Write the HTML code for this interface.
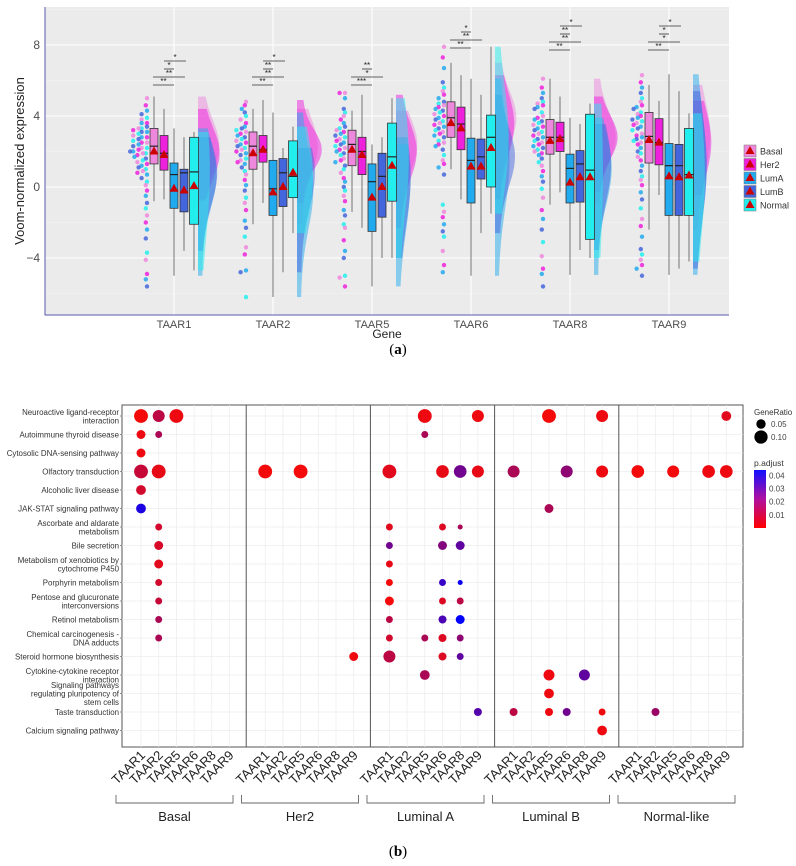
<!DOCTYPE html>
<html><head><meta charset="utf-8"><style>
body{margin:0;background:#fff}
svg{display:block;font-family:"Liberation Sans",sans-serif}
</style></head><body>
<svg id="fig" width="796" height="866" viewBox="0 0 796 866" xmlns="http://www.w3.org/2000/svg">
<g id="topPanel"></g>
<g id="botPanel"></g>
<text x="398" y="354" text-anchor="middle" font-family="Liberation Serif,serif" font-size="15">(<tspan font-weight="bold">a</tspan>)</text>
<text x="398" y="856" text-anchor="middle" font-family="Liberation Serif,serif" font-size="15">(<tspan font-weight="bold">b</tspan>)</text>
</svg>
<script>
// ---------- Panel A data ----------
const genes = ["TAAR1","TAAR2","TAAR5","TAAR6","TAAR8","TAAR9"];
const subtypes = ["Basal","Her2","LumA","LumB","Normal"];
const yTicks = [8,4,0,-4];
// per gene, per subtype: [q1, median, q3, whiskerLow, whiskerHigh, mean]
const statsTAAR1 = [[1.3,2.3,3.3,-0.8,5.1,2.0],[0.95,1.9,2.9,-0.7,4.4,1.8],[-1.2,0.7,1.35,-5,3.3,-0.1],[-1.4,0.8,1.0,-3.6,2.8,-0.2],[-2.1,0.85,2.8,-4.7,3.1,0.05]];
const statsTAAR2 = [[1.0,2.3,3.1,-2.1,4.4,1.9],[1.4,2.1,2.9,-0.9,4.9,2.1],[-1.6,-0.1,1.5,-6.2,4.2,-0.3],[-1.1,0.8,1.6,-4.8,2.2,0],[-0.6,0.6,2.6,-2.6,3.4,0.8]];
const statsTAAR5 = [[1.2,2.4,3.2,-1.4,4.3,2.1],[0.7,2.0,2.8,-2.3,5.2,1.8],[-2.5,0.3,1.3,-5.6,2.4,-0.6],[-1.7,0.6,1.9,-4,2.8,0],[-0.8,1.7,3.6,-4,5.0,1.2]];
const statsTAAR6 = [[2.8,3.9,4.8,1.0,7.0,3.6],[2.1,3.55,4.5,-0.7,6.3,3.3],[-0.9,1.5,2.75,-5,6.1,1.15],[0.45,1.7,2.7,-2.6,5.2,1.15],[0,2.8,4.05,-1.5,7.9,2.2]];
const statsTAAR8 = [[1.85,2.8,3.8,-1.0,6.1,2.6],[2.0,2.8,3.65,-0.3,5.1,2.7],[-0.9,1.05,1.85,-4.95,3.9,0.25],[-0.85,1.3,2.05,-3.55,3.55,0.55],[-2.95,0.95,4.1,-4.0,4.7,0.55]];
const statsTAAR9 = [[1.35,2.85,4.2,-2.4,5.75,2.65],[1.25,2.5,3.85,-0.45,4.85,2.5],[-1.6,1.2,2.45,-4.95,6.35,0.6],[-1.6,1.2,2.4,-4.6,5.4,0.55],[-1.6,0.7,3.3,-4.2,4.15,0.65]];
const allStats = [statsTAAR1,statsTAAR2,statsTAAR5,statsTAAR6,statsTAAR8,statsTAAR9];
const ptsTAAR1 = [5,4.6,4.3,4.1,3.9,3.8,3.6,3.6,3.4,3.3,3.3,3.2,3.1,3.1,3.0,2.9,2.8,2.8,2.7,2.6,2.5,2.5,2.4,2.3,2.2,2.2,2.1,2.0,2.0,1.9,1.9,1.8,1.7,1.6,1.5,1.4,1.3,1.2,1.1,1.0,0.9,0.8,0.7,0.5,0.3,0.1,-0.2,-0.5,-0.9,-1.2,-1.6,-2.0,-2.4,-2.9,-3.7,-4.1,-4.9,-5.2,-5.6];
const ptsTAAR2 = [4.8,4.6,4.4,4.2,4.0,3.8,3.6,3.4,3.3,3.2,3.1,3.0,2.9,2.8,2.7,2.6,2.5,2.4,2.3,2.2,2.1,2.0,1.9,1.8,1.6,1.5,1.4,1.3,1.1,0.9,0.7,0.4,0.1,-0.2,-0.6,-0.9,-1.3,-1.9,-2.3,-2.8,-3.4,-3.8,-4.7,-4.8,-6.2];
const ptsTAAR5 = [5.3,5.3,5.0,4.4,4.2,4.0,3.8,3.6,3.4,3.3,3.2,3.1,3.0,2.9,2.8,2.7,2.6,2.5,2.4,2.3,2.2,2.1,2.0,1.9,1.8,1.6,1.5,1.4,1.2,1.0,0.8,0.5,0.3,0.0,-0.2,-0.5,-0.8,-1.3,-1.6,-2.1,-2.3,-3.0,-3.6,-4.0,-5.0,-5.1,-5.6];
const ptsTAAR6 = [7.9,7.3,6.7,5.9,5.6,5.4,5.2,5.0,4.8,4.7,4.6,4.5,4.4,4.3,4.2,4.1,4.0,3.9,3.8,3.7,3.6,3.5,3.4,3.3,3.2,3.1,3.0,2.9,2.8,2.6,2.5,2.4,2.3,2.1,1.8,1.5,1.3,1.1,0.7,-1.0,-1.4,-1.7,-2.1,-2.5,-2.8,-3.6,-4.4,-4.8];
const ptsTAAR8 = [6.1,5.6,5.3,5.0,4.8,4.7,4.6,4.5,4.4,4.2,4.0,3.9,3.8,3.7,3.6,3.5,3.4,3.3,3.2,3.1,3.0,2.9,2.8,2.7,2.6,2.5,2.4,2.3,2.2,2.1,2.0,1.9,1.8,1.6,1.4,1.2,0.9,0.6,0.3,-0.1,-0.6,-1.3,-1.8,-2.4,-3.1,-3.9,-4.6,-4.9,-5.6];
const ptsTAAR9 = [6.3,5.9,5.6,5.3,5.0,4.8,4.6,4.5,4.4,4.2,4.1,4.0,3.9,3.8,3.7,3.6,3.5,3.4,3.3,3.2,3.0,2.9,2.8,2.7,2.6,2.5,2.4,2.2,2.0,1.9,1.7,1.5,1.2,0.9,0.6,0.4,0.1,-0.3,-0.7,-1.2,-1.8,-2.2,-2.8,-3.5,-3.8,-4.1,-4.4,-4.6,-5.0];
const allPts = [ptsTAAR1,ptsTAAR2,ptsTAAR5,ptsTAAR6,ptsTAAR8,ptsTAAR9];
const sigTAAR1 = ["*","*","**","**"];
const sigTAAR2 = ["*","**","**","**"];
const sigTAAR5 = ["","**","*","***"];
const sigTAAR6 = ["","*","**","**"];
const sigTAAR8 = ["*","**","**","**"];
const sigTAAR9 = ["*","*","*","**"];
const allSig = [sigTAAR1,sigTAAR2,sigTAAR5,sigTAAR6,sigTAAR8,sigTAAR9];
const sigBaseY = [61,61,61,24,26,26];

// ---------- Panel B data ----------
const pathways = ["Neuroactive ligand-receptor|interaction","Autoimmune thyroid disease","Cytosolic DNA-sensing pathway","Olfactory transduction","Alcoholic liver disease","JAK-STAT signaling pathway","Ascorbate and aldarate|metabolism","Bile secretion","Metabolism of xenobiotics by|cytochrome P450","Porphyrin metabolism","Pentose and glucuronate|interconversions","Retinol metabolism","Chemical carcinogenesis -|DNA adducts","Steroid hormone biosynthesis","Cytokine-cytokine receptor|interaction","Signaling pathways|regulating pluripotency of|stem cells","Taste transduction","Calcium signaling pathway"];
const facets = ["Basal","Her2","Luminal A","Luminal B","Normal-like"];
// each: [facet, geneIndex, pathwayIndex, geneRatio, p.adjust]
const dotsBasal = [[0,0,0,0.12,0.002],[0,1,0,0.09,0.012],[0,2,0,0.12,0.003],[0,0,1,0.05,0.003],[0,1,1,0.03,0.015],[0,0,2,0.05,0.003],[0,0,3,0.12,0.01],[0,1,3,0.12,0.004],[0,0,4,0.06,0.008],[0,0,5,0.06,0.04],[0,1,6,0.03,0.008],[0,1,7,0.05,0.007],[0,1,8,0.05,0.005],[0,1,9,0.03,0.008],[0,1,10,0.03,0.01],[0,1,11,0.03,0.015],[0,1,12,0.03,0.015]];
const dotsHer2 = [[1,0,3,0.12,0.002],[1,2,3,0.12,0.002],[1,5,13,0.05,0.003]];
const dotsLumA = [[2,2,0,0.12,0.003],[2,5,0,0.09,0.003],[2,2,1,0.03,0.015],[2,0,3,0.12,0.005],[2,3,3,0.1,0.004],[2,4,3,0.1,0.025],[2,5,3,0.09,0.004],[2,0,6,0.03,0.005],[2,3,6,0.03,0.006],[2,4,6,0.016,0.015],[2,0,7,0.03,0.025],[2,3,7,0.05,0.022],[2,4,7,0.05,0.028],[2,0,8,0.03,0.004],[2,0,9,0.03,0.002],[2,3,9,0.03,0.035],[2,4,9,0.016,0.043],[2,0,10,0.05,0.002],[2,3,10,0.03,0.006],[2,4,10,0.03,0.012],[2,0,11,0.03,0.012],[2,3,11,0.04,0.032],[2,4,11,0.05,0.045],[2,0,12,0.03,0.008],[2,2,12,0.03,0.015],[2,3,12,0.04,0.006],[2,4,12,0.03,0.02],[2,0,13,0.09,0.012],[2,3,13,0.04,0.006],[2,4,13,0.03,0.028],[2,2,14,0.06,0.015],[2,5,16,0.04,0.03]];
const dotsLumB = [[3,2,0,0.12,0.002],[3,5,0,0.09,0.003],[3,0,3,0.09,0.015],[3,3,3,0.09,0.02],[3,5,3,0.09,0.003],[3,2,5,0.05,0.015],[3,2,14,0.075,0.003],[3,4,14,0.075,0.028],[3,2,15,0.06,0.003],[3,0,16,0.04,0.012],[3,2,16,0.04,0.003],[3,3,16,0.04,0.025],[3,5,16,0.03,0.003],[3,5,17,0.06,0.003]];
const dotsNormal = [[4,5,0,0.06,0.005],[4,0,3,0.1,0.002],[4,2,3,0.09,0.002],[4,4,3,0.1,0.003],[4,5,3,0.1,0.003],[4,1,16,0.04,0.018]];
const legendRatios = [0.05,0.10];
const legendPadj = [0.04,0.03,0.02,0.01];

const NS="http://www.w3.org/2000/svg";
function mk(parent,tag,attrs,text){const e=document.createElementNS(NS,tag);for(const k in attrs)e.setAttribute(k,attrs[k]);if(text!==undefined)e.textContent=text;parent.appendChild(e);return e;}

// ===== Panel A =====
const topG=document.getElementById('topPanel');
const PL=45,PR=729,PT=7,PB=315;
const yT=v=>187-v*17.75;
const xT=i=>174+i*99;
const subCol=["#ee88dd","#ee22dd","#22aaee","#4466dd","#22eeee"];
const offs=[-20,-10,0,10,20];
let bg=mk(topG,'rect',{x:PL,y:PT,width:PR-PL,height:PB-PT,fill:'#ebebeb'});


[10,6,2,-2,-6].forEach(v=>{let l=mk(topG,'line',{x1:PL,x2:PR,y1:yT(v),y2:yT(v),stroke:'#f5f5f5','stroke-width':0.6});
 
 });
yTicks.forEach(v=>{let l=mk(topG,'line',{x1:PL,x2:PR,y1:yT(v),y2:yT(v),stroke:'#fff','stroke-width':1.1});
 
 
 let t=mk(topG,'text',{x:PL-5,y:yT(v)+4,'text-anchor':'end','font-size':12,fill:'#4d4d4d'},String(v).replace('-','−'));
 
 });
genes.forEach((g,i)=>{let l=mk(topG,'line',{x1:xT(i),x2:xT(i),y1:PT,y2:PB,stroke:'#fff','stroke-width':1.1});
 
 
 let t=mk(topG,'text',{x:xT(i),y:328,'text-anchor':'middle','font-size':11,fill:'#4d4d4d'},g);
 
 });
let ax=mk(topG,'path',{d:`M${PL} ${PT}V${PB}H${PR}`,fill:'none',stroke:'#5a5aa8','stroke-width':1});


let yl=mk(topG,'text',{x:0,y:0,transform:'translate(24,161) rotate(-90)','text-anchor':'middle','font-size':13,fill:'#222'},'Voom-normalized expression');


let xl=mk(topG,'text',{x:387,y:338,'text-anchor':'middle','font-size':12,fill:'#222'},'Gene');



genes.forEach((g,gi)=>{
 const c=xT(gi);const st=allStats[gi];
 const grp=mk(topG,'g',{});
 
 
 for(let s=0;s<5;s++){
  const [q1,md,q3,lo,hi]=st[s];const sd=Math.max(0.6,(q3-q1)/1.35);
  const x0=c+24;let d=`M${x0} ${yT(hi)}`;const n=40;
  for(let k=0;k<=n;k++){const v=hi-(hi-lo)*k/n;const z=(v-md)/sd;const w=(0.3+Math.exp(-z*z/2))*22/(sd*0.5+0.6);d+=` L${(x0+Math.min(w,28)).toFixed(1)} ${yT(v).toFixed(1)}`;}
  d+=` L${x0} ${yT(lo)}Z`;
  let p=mk(grp,'path',{d,fill:subCol[s],opacity:0.5});
  
  
 }
 const pts=allPts[gi];const bins={};
 pts.forEach((v,k)=>{const b=Math.round(v/0.3);bins[b]=(bins[b]||0)+1;const col=bins[b]-1;
  let e=mk(grp,'circle',{cx:c-27-col*4.2-(k%2)*1.2,cy:yT(v),r:2.2,fill:subCol[k%5],opacity:0.85});
  
  });
 st.forEach((s,si)=>{const [q1,md,q3,lo,hi,mn]=s;const x=c+offs[si];const w=si==4?9:8;
  let wl=mk(grp,'line',{x1:x,x2:x,y1:yT(hi),y2:yT(lo),stroke:'#555','stroke-width':0.8});
  
  
  let r=mk(grp,'rect',{x:x-w/2,y:yT(q3),width:w,height:yT(q1)-yT(q3),fill:subCol[si],stroke:'#333','stroke-width':0.8});
  
  
  let m=mk(grp,'line',{x1:x-w/2,x2:x+w/2,y1:yT(md),y2:yT(md),stroke:'#222','stroke-width':1.2});
  
  
  const ym=yT(mn);let t=mk(grp,'path',{d:`M${x} ${ym-5}L${x+4.5} ${ym+3}L${x-4.5} ${ym+3}Z`,fill:'#cc0000'});
  
  
 });
 const sig=allSig[gi];const spans=[[-10,12],[-10,0],[-21,11],[-21,0]];
 sig.forEach((lab,k)=>{if(!lab)return;const y=sigBaseY[gi]+k*8;
  let l=mk(grp,'line',{x1:c+spans[k][0],x2:c+spans[k][1],y1:y,y2:y,stroke:'#333','stroke-width':0.8});
  
  
  let t=mk(grp,'text',{x:c+(spans[k][0]+spans[k][1])/2,y:y-1,'text-anchor':'middle','font-size':8,fill:'#222'},lab);
  
  });
});
subtypes.forEach((s,i)=>{const y=151+i*13.5;
 const g=mk(topG,'g',{});
 
 
 mk(g,'rect',{x:744,y:y-6,width:12,height:12,fill:subCol[i],stroke:'#777','stroke-width':0.5});
 mk(g,'path',{d:`M750 ${y-5}L754.5 ${y+3}L745.5 ${y+3}Z`,fill:'#cc0000'});
 mk(g,'text',{x:760,y:y+3.5,'font-size':9,fill:'#333'},s);
});

// ===== Panel B =====
const botG=document.getElementById('botPanel');
const BL=122,BR=743,BT=405,BB=747,FW=124.2;
const xB=(f,g)=>BL+19+f*FW+g*17.7;
const yB=r=>416+r*18.5;
const rScale=gr=>Math.sqrt(gr)*20;
function pcol(p){const t=Math.min(1,Math.max(0,p/0.045));const r=Math.round(255*(1-t)),b=Math.round(255*t);return `rgb(${r},${Math.round(10*(1-t))},${b})`;}
let pb=mk(botG,'rect',{x:BL,y:BT,width:BR-BL,height:BB-BT,fill:'#fff',stroke:'#555','stroke-width':1});


pathways.forEach((p,r)=>{let l=mk(botG,'line',{x1:BL,x2:BR,y1:yB(r),y2:yB(r),stroke:'#ececec','stroke-width':0.7});
 
 
 const lines=p.split('|');const n=lines.length;
 const t=mk(botG,'text',{x:119,y:0,'text-anchor':'end','font-size':7.9,fill:'#333'});
 
 
 lines.forEach((ln,k)=>{mk(t,'tspan',{x:119,y:yB(r)+3+(k-(n-1)/2)*8.5},ln);});
 let tk=mk(botG,'line',{x1:BL-2,x2:BL,y1:yB(r),y2:yB(r),stroke:'#555','stroke-width':0.6});
 
 
});
facets.forEach((f,fi)=>{
 for(let g=0;g<6;g++){const x=xB(fi,g);
  let l=mk(botG,'line',{x1:x,x2:x,y1:BT,y2:BB,stroke:'#ececec','stroke-width':0.7});
  
  
  let t=mk(botG,'text',{x:0,y:0,transform:`translate(${x+5},${BB+9}) rotate(-45)`,'text-anchor':'end','font-size':13,fill:'#222'},genes[g]);
  
  }
 if(fi>0){let d=mk(botG,'line',{x1:BL+fi*FW,x2:BL+fi*FW,y1:BT,y2:BB,stroke:'#555','stroke-width':1});
  
  }
 const x1=116+fi*125.5,x2=x1+117;
 let br=mk(botG,'path',{d:`M${x1} 795V803H${x2}V795`,fill:'none',stroke:'#666','stroke-width':0.9});
 
 
 let ft=mk(botG,'text',{x:(x1+x2)/2,y:821,'text-anchor':'middle','font-size':13,fill:'#222'},f);
 
 
});
[dotsBasal,dotsHer2,dotsLumA,dotsLumB,dotsNormal].forEach(arr=>arr.forEach(([f,g,r,gr,p])=>{
 let c=mk(botG,'circle',{cx:xB(f,g),cy:yB(r),r:rScale(gr),fill:pcol(p)});
 
 
}));
let lt=mk(botG,'text',{x:754,y:415,'font-size':8,fill:'#333'},'GeneRatio');


legendRatios.forEach((v,i)=>{const y=424+i*13;let c=mk(botG,'circle',{cx:761,cy:y,r:rScale(v*1.1),fill:'#000'});
 
 
 let t=mk(botG,'text',{x:771,y:y+3,'font-size':8,fill:'#444'},v.toFixed(2));
 
 });
let pt=mk(botG,'text',{x:754,y:466,'font-size':8.5,fill:'#333'},'p.adjust');


const defs=mk(botG,'defs',{});const lg=mk(defs,'linearGradient',{id:'pg',x1:0,y1:0,x2:0,y2:1});
mk(lg,'stop',{offset:'0','stop-color':'#1010ff'});mk(lg,'stop',{offset:'0.5','stop-color':'#b010a0'});mk(lg,'stop',{offset:'1','stop-color':'#ff0000'});
let cb=mk(botG,'rect',{x:754,y:470,width:12,height:58,fill:'url(#pg)'});


legendPadj.forEach(v=>{const y=470+(0.044-v)/0.044*58;let t=mk(botG,'text',{x:769,y:y+3,'font-size':8,fill:'#444'},v.toFixed(2));
 
 });
</script>
</body></html>
